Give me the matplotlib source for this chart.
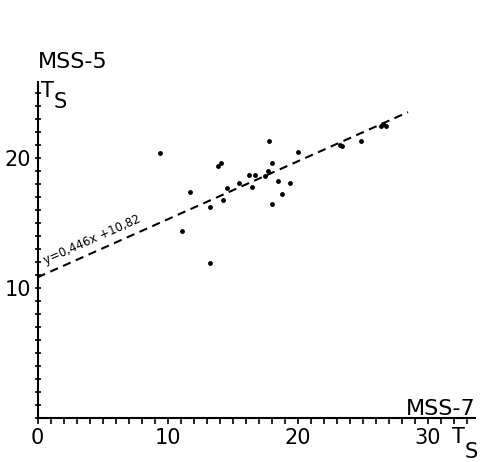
import matplotlib
matplotlib.use("Agg")
import matplotlib.pyplot as plt
import numpy as np

# Data
mss7 = [9.4, 11.1, 11.7, 13.3, 13.3, 13.9, 14.1, 14.3, 14.6, 15.5, 16.3, 16.5, 16.7,
        17.5, 17.7, 17.8, 18.0, 18.0, 18.5, 18.8, 19.4, 20.0, 23.3, 23.4, 24.9,
        26.4, 26.6, 26.8]
mss5 = [20.4, 14.4, 17.4, 16.2, 11.9, 19.4, 19.6, 16.8, 17.7, 18.1, 18.7, 17.8, 18.7,
        18.6, 19.0, 21.3, 19.6, 16.5, 18.2, 17.2, 18.1, 20.5, 21.0, 20.9, 21.3,
        22.5, 22.6, 22.5]
slope = 0.446
intercept = 10.82
fit_x = [0, 28.5]
equation = "y=0,446x +10,82"
x_ticks = [0, 10, 20, 30]
y_ticks = [10, 20]

fig = plt.figure(figsize=(4.85, 4.62), dpi=100)
ax = fig.add_axes([37.5 / 485, 44 / 462, 437.5 / 485, 336 / 462])
ax.set_xlim(0, 33.65)
ax.set_ylim(0, 25.85)

for s in ["top", "right"]:
    ax.spines[s].set_visible(False)
for s in ["left", "bottom"]:
    ax.spines[s].set_linewidth(1.5)

ax.plot(mss7, mss5, "o", color="black", markersize=3.5, markeredgewidth=0)
fx = np.array(fit_x, dtype=float)
ax.plot(fx, slope * fx + intercept, color="black", lw=1.5, dashes=(4, 2.7))

ax.set_xticks(x_ticks)
ax.set_yticks(y_ticks)
ax.set_xticks(np.arange(0, 34, 1), minor=True)
ax.set_yticks(np.arange(0, 26, 1), minor=True)
ax.tick_params(axis="x", which="both", direction="out", length=4.5, width=1.2, pad=3,
               labelsize=15)
ax.tick_params(axis="y", which="both", direction="inout", length=5, width=1.2, pad=2,
               labelsize=15)

# equation along the line
ang = np.degrees(np.arctan(slope * (336 / 25.85) / (437.5 / 33.65)))
ax.text(0.7, slope * 0.7 + intercept + 0.45, equation, rotation=ang,
        rotation_mode="anchor", ha="left", va="bottom", fontsize=8.5)

# axis titles
fig.text(38 / 485, 1 - 68 / 462, "MSS-5", fontsize=16, ha="left", va="baseline")
fig.text(41 / 485, 1 - 97 / 462, "T", fontsize=15, ha="left", va="baseline")
fig.text(54 / 485, 1 - 108 / 462, "S", fontsize=15, ha="left", va="baseline")
fig.text(476 / 485, 1 - 415 / 462, "MSS-7", fontsize=16, ha="right", va="baseline")
fig.text(452 / 485, 1 - 443 / 462, "T", fontsize=15, ha="left", va="baseline")
fig.text(465 / 485, 1 - 458 / 462, "S", fontsize=15, ha="left", va="baseline")

fig.savefig("out.png", dpi=100)
